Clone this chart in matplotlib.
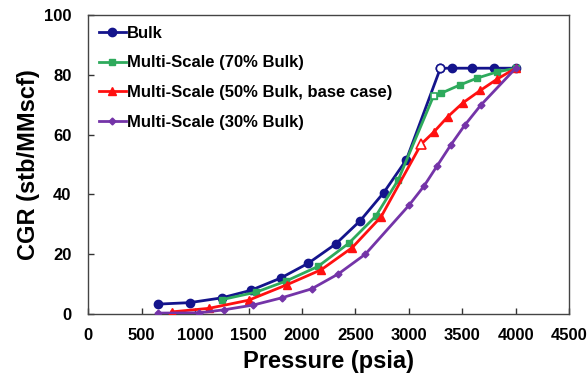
import matplotlib
matplotlib.use("Agg")
import matplotlib.pyplot as plt

plt.rcParams['font.family'] = ['Liberation Sans', 'DejaVu Sans']

# Data (pressure in psia, CGR in stb/MMscf)
bulk_p = [650, 950, 1250, 1520, 1800, 2060, 2315, 2545, 2765, 2977, 3295, 3400, 3595, 3800, 4000]
bulk_cgr = [3.3, 3.8, 5.4, 7.9, 12.0, 17.0, 23.4, 31.2, 40.6, 51.6, 82.2, 82.2, 82.2, 82.2, 82.2]
bulk_dew = 10

ms70_p = [1250, 1570, 1850, 2150, 2436, 2690, 2900, 3232, 3300, 3478, 3640, 3820, 4000]
ms70_cgr = [4.8, 7.3, 11.0, 15.9, 23.6, 32.7, 44.8, 73.0, 73.8, 76.6, 78.9, 80.9, 82.2]
ms70_dew = 7

ms50_p = [780, 1130, 1500, 1860, 2180, 2470, 2740, 3115, 3232, 3365, 3505, 3670, 3828, 4000]
ms50_cgr = [0.7, 1.9, 4.6, 9.8, 14.8, 22.2, 32.5, 56.8, 60.8, 66.0, 70.6, 74.8, 78.6, 82.2]
ms50_dew = 7

ms30_p = [650, 1040, 1270, 1545, 1810, 2090, 2340, 2593, 3000, 3140, 3262, 3390, 3522, 3672, 4000]
ms30_cgr = [0.3, 0.4, 1.4, 3.0, 5.4, 8.4, 13.4, 20.0, 36.3, 42.7, 49.4, 56.4, 63.1, 69.8, 82.2]

labels = ["Bulk", "Multi-Scale (70% Bulk)", "Multi-Scale (50% Bulk, base case)", "Multi-Scale (30% Bulk)"]
xticks = [0, 500, 1000, 1500, 2000, 2500, 3000, 3500, 4000, 4500]
yticks = [0, 20, 40, 60, 80, 100]

c_bulk = "#14148c"
c_70 = "#2eaa5c"
c_50 = "#ff1010"
c_30 = "#7434a8"

fig = plt.figure(figsize=(5.88, 3.79), dpi=100)
ax = fig.add_axes([0.150, 0.1715, 0.818, 0.789])

ax.plot(bulk_p, bulk_cgr, color=c_bulk, lw=2, marker='o', ms=6, label=labels[0], zorder=3)
ax.plot(ms70_p, ms70_cgr, color=c_70, lw=2, marker='s', ms=5, label=labels[1], zorder=3)
ax.plot(ms50_p, ms50_cgr, color=c_50, lw=2, marker='^', ms=6, label=labels[2], zorder=3)
ax.plot(ms30_p, ms30_cgr, color=c_30, lw=2, marker='D', ms=3.5, label=labels[3], zorder=3)

# hollow dew-point markers
ax.plot([bulk_p[bulk_dew]], [bulk_cgr[bulk_dew]], marker='o', ms=6, mfc='white', mec=c_bulk, mew=1.2, ls='none', zorder=4)
ax.plot([ms70_p[ms70_dew]], [ms70_cgr[ms70_dew]], marker='s', ms=5, mfc='white', mec=c_70, mew=1.2, ls='none', zorder=4)
ax.plot([ms50_p[ms50_dew]], [ms50_cgr[ms50_dew]], marker='^', ms=7, mfc='white', mec=c_50, mew=1.2, ls='none', zorder=4)

ax.set_xlim(0, 4500)
ax.set_ylim(0, 100)
ax.set_xticks(xticks)
ax.set_yticks(yticks)
ax.tick_params(direction='in', length=4, width=1, colors='#333333', labelcolor='black', labelsize=12)
ax.tick_params(axis='y', pad=12)
ax.tick_params(axis='x', pad=10)
for lab in ax.get_xticklabels() + ax.get_yticklabels():
    lab.set_fontweight('bold')
for s in ax.spines.values():
    s.set_color('#444444')
    s.set_linewidth(1.0)

ax.set_xlabel("Pressure (psia)", fontsize=17, fontweight='bold', labelpad=5)
ax.set_ylabel("CGR (stb/MMscf)", fontsize=17, fontweight='bold', labelpad=3)

leg = ax.legend(loc='upper left', frameon=False, prop={'weight': 'bold', 'size': 12},
                handlelength=1.6, handletextpad=0.1, labelspacing=0.88,
                borderaxespad=0.25, bbox_to_anchor=(0.0, 1.0))

fig.savefig("out.png", dpi=100)
